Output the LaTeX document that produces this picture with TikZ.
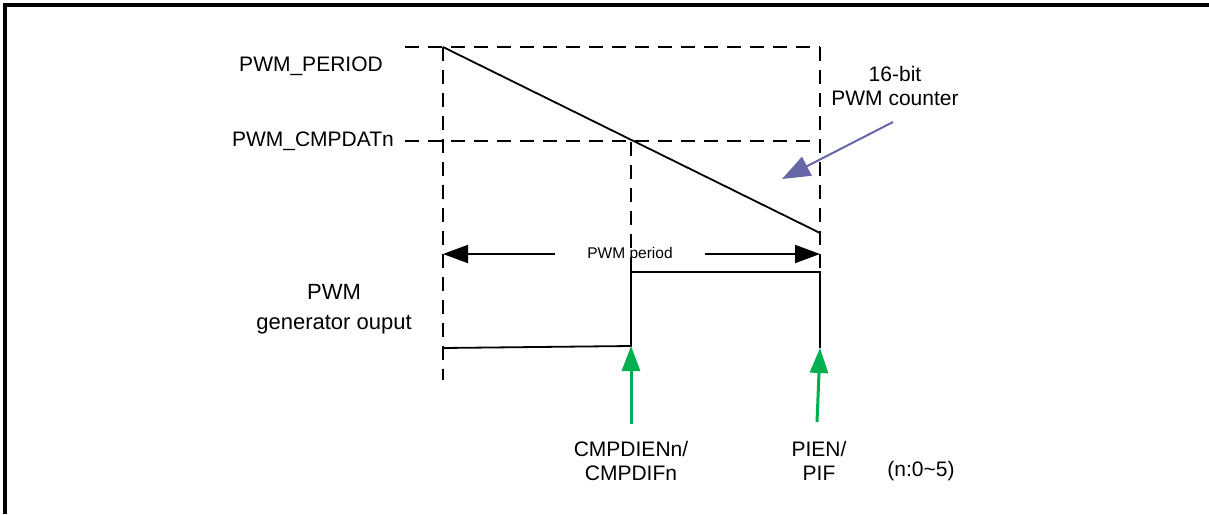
\documentclass[tikz,border=0pt]{standalone}
\usepackage{fontspec}
\setmainfont{Liberation Sans}
\usetikzlibrary{positioning,arrows.meta,calc}
\definecolor{verde}{RGB}{0,176,80}
\definecolor{mov}{RGB}{103,103,168}
\tikzset{
  eticheta/.style  = {font=\fontsize{21}{24}\selectfont, inner sep=0pt, align=center},
  etichetamare/.style = {font=\fontsize{22}{30}\selectfont, inner sep=0pt, align=center},
  ghid/.style      = {line width=1.8pt, dash pattern=on 14pt off 9pt},
  semnal/.style    = {line width=1.8pt},
  sageata/.style   = {-{Triangle[length=25pt, width=18pt]}, line width=1.8pt},
  sageataverde/.style = {-{Triangle[length=25pt, width=18pt]}, line width=3pt, draw=verde, fill=verde},
  sageatamov/.style   = {-{Triangle[length=28pt, width=21pt]}, line width=2pt, draw=mov, fill=mov}
}
\begin{document}
\begin{tikzpicture}[x=1pt, y=-1pt]
    \useasboundingbox (0,0) rectangle (1209,514);
    % frame
    \draw[line width=4pt] (5,514) -- (5,5) -- (1209,5);

    % key points of the counter
    \coordinate (varf) at (443,47);
    \coordinate (capat) at (820,233);
    \coordinate (dreaptasus) at (820,47);
    \coordinate (cmp) at (631,142);
    \coordinate (cmpdr) at (820,142);
    \coordinate (stgjos) at (443,380);

    \node[eticheta] (period) at (311,66) {PWM\_PERIOD};
    \node[eticheta, anchor=east] (cmpdat) at (394,141) {PWM\_CMPDATn};
    \coordinate (perst) at (405,47);
    \coordinate (cmpst) at ([xshift=11pt]cmpdat.east);

    % dashed guides
    \draw[ghid] (perst) -- (dreaptasus);
    \draw[ghid] (cmpst) -- (cmpst -| cmpdr);
    \draw[ghid] (varf) -- (stgjos);
    \draw[ghid] (dreaptasus) -- (820,272);
    \draw[ghid] (cmp) -- (631,272);

    % counter ramp
    \draw[semnal] (varf) -- (capat);

    % PWM period
    \node[font=\fontsize{15.5}{18}\selectfont, minimum width=150pt, inner sep=0pt] (per) at (630,254) {PWM period};
    \draw[sageata] (per.west) -- (per.west -| varf);
    \draw[sageata] (per.east) -- (per.east -| dreaptasus);

    % output waveform
    \coordinate (jos0) at (443,348);
    \coordinate (jos1) at (631,346);
    \coordinate (sus1) at (631,272);
    \coordinate (sus2) at (820,272);
    \coordinate (jos2) at (820,348);
    \draw[semnal] (jos0) -- (jos1) -- (sus1) -- (sus2) -- (jos2);

    \node[etichetamare] (gen) at (334,309) {PWM\\ generator ouput};

    % interrupt flags
    \node[eticheta] (cmpflag) at (631,461) {CMPDIENn/\\ CMPDIFn};
    \node[eticheta] (pflag) at (819,461) {PIEN/\\ PIF};
    \node[eticheta] (nota) at (921,471) {(n:0\textasciitilde 5)};
    \draw[sageataverde] (631,424) -- (jos1);
    \draw[sageataverde] (817,422) -- (jos2);

    % counter label
    \node[eticheta] (cnt) at (895,86) {16-bit\\ PWM counter};
    \coordinate (cntsursa) at (893,122);
    \draw[sageatamov] (cntsursa) -- (782,179);
\end{tikzpicture}
\end{document}
